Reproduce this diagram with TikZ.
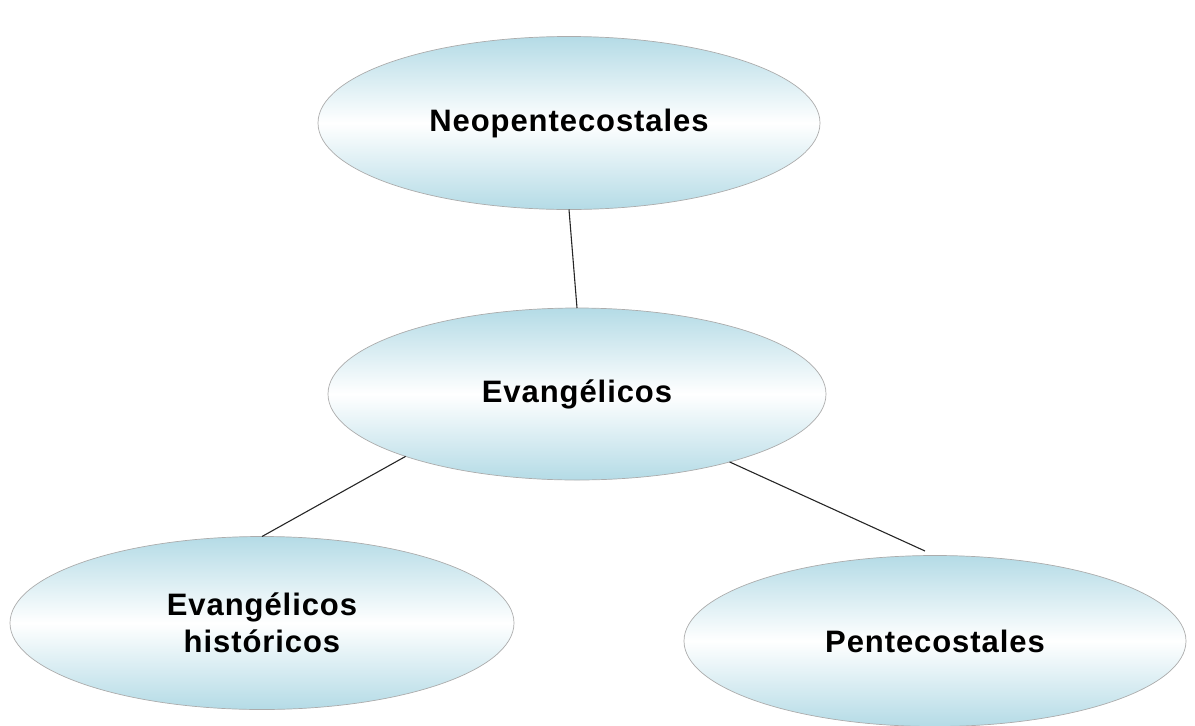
\documentclass[tikz,border=0pt]{standalone}
\usepackage{fontspec}
\setmainfont{Liberation Sans}[LetterSpace=3]
\usetikzlibrary{shapes.geometric}
\definecolor{ellblue}{HTML}{B4DBE6}
\tikzset{
  oval/.style={ellipse, draw=gray!65, line width=0.7pt, inner sep=0pt, outer sep=0pt,
    minimum width=502pt, minimum height=173pt,
    top color=ellblue, bottom color=ellblue, middle color=white,
    font=\fontsize{31}{37}\selectfont\bfseries, align=center},
  link/.style={draw=black!85, line width=1.1pt}
}
\begin{document}
\begin{tikzpicture}[x=1pt,y=-1pt]
\useasboundingbox (0,0) rectangle (1195,726);
\node[oval] (neo) at (569,123) {Neopentecostales};
\node[oval, minimum width=498pt, minimum height=172pt] (evan) at (577,394) {Evangélicos};
\node[oval, minimum width=504pt] (hist) at (262,623) {Evangélicos\\ históricos};
\node[oval, minimum height=171pt] (pent) at (935,641) {Pentecostales};
\coordinate (pentTop) at (925,551);
\draw[link] (neo.south) -- (evan.north);
\draw[link] (evan.200) -- (hist.north);
\draw[link] (evan.336) -- (pentTop);
\end{tikzpicture}
\end{document}
